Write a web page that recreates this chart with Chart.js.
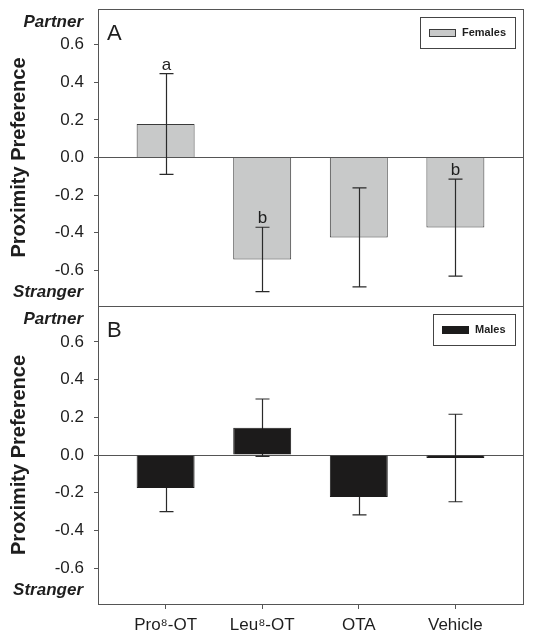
<!DOCTYPE html>
<html>
<head>
<meta charset="utf-8">
<script src="https://cdn.jsdelivr.net/npm/chart.js@4.4.0/dist/chart.umd.min.js"></script>
<style>
  html, body { margin: 0; padding: 0; background: #fff; }
  #wrap { position: relative; width: 533px; height: 642px; }
  #boxA { position: absolute; left: 0; top: 0; width: 533px; height: 307px; }
  #boxB { position: absolute; left: 0; top: 300px; width: 533px; height: 342px; }
</style>
</head>
<body>
<div id="wrap">
  <div id="boxA"><canvas id="chartA"></canvas></div>
  <div id="boxB"><canvas id="chartB"></canvas></div>
</div>
<script>
const categories = ['Pro\u2078-OT', 'Leu\u2078-OT', 'OTA', 'Vehicle'];
const femaleMeans = [0.178, -0.542, -0.425, -0.373];
const femaleErrors = [0.268, 0.171, 0.263, 0.258];
const femaleLetters = ['a', 'b', '', 'b'];
const maleMeans = [-0.175, 0.145, -0.223, -0.016];
const maleErrors = [0.125, 0.152, 0.094, 0.232];
const yTicks = [-0.6, -0.4, -0.2, 0, 0.2, 0.4, 0.6];
const endLabels = { top: 'Partner', bottom: 'Stranger' };

const FONT = '"Liberation Sans", Arial, sans-serif';
const INK = '#1e1e1e';
const EDGE = '#555';
Chart.defaults.font.family = FONT;
Chart.defaults.color = INK;

const noPad = (s) => {
  s.paddingTop = 0;
  s.paddingBottom = 0;
  s.paddingLeft = 0;
  s.paddingRight = 0;
};

const drawErrors = (chart, o) => {
  const { ctx, scales: { x, y } } = chart;
  ctx.save();
  ctx.strokeStyle = '#2a2a2a';
  ctx.lineWidth = 1.2;
  o.means.forEach((m, i) => {
    const px = Math.round(x.getPixelForValue(i + 1)) + 0.5;
    const hi = y.getPixelForValue(m + o.errors[i]);
    const lo = y.getPixelForValue(m - o.errors[i]);
    ctx.beginPath();
    ctx.moveTo(px, hi); ctx.lineTo(px, lo);
    ctx.moveTo(px - 7, hi); ctx.lineTo(px + 7, hi);
    ctx.moveTo(px - 7, lo); ctx.lineTo(px + 7, lo);
    ctx.stroke();
    const t = (o.letters || [])[i];
    if (t) {
      ctx.fillStyle = INK;
      ctx.font = `17px ${FONT}`;
      ctx.textAlign = 'center';
      ctx.textBaseline = 'alphabetic';
      ctx.fillText(t, px, hi - 4);
    }
  });
  ctx.restore();
};

// frame, error bars, letters, legend box, Partner/Stranger
const panelPlugin = {
  id: 'panel',
  beforeDatasetsDraw(chart, args, o) {
    if (o.errorsBehind) drawErrors(chart, o);
  },
  afterDatasetsDraw(chart, args, o) {
    if (!o.errorsBehind) drawErrors(chart, o);
  },
  afterDraw(chart, args, o) {
    const { ctx, chartArea: a, scales: { y } } = chart;
    ctx.save();
    ctx.strokeStyle = EDGE;
    ctx.lineWidth = 1;
    ctx.strokeRect(Math.round(a.left) + 0.5, Math.round(a.top) + 0.5,
      Math.round(a.right - a.left), Math.round(a.bottom - a.top));

    ctx.fillStyle = INK;
    ctx.font = `italic bold 17px ${FONT}`;
    ctx.textAlign = 'right';
    ctx.textBaseline = 'middle';
    ctx.fillText(endLabels.top, 83, y.getPixelForValue(0.717));
    ctx.fillText(endLabels.bottom, 83, y.getPixelForValue(-0.717));

    ctx.font = `22px ${FONT}`;
    ctx.textAlign = 'left';
    ctx.textBaseline = 'alphabetic';
    ctx.fillText(o.letter, a.left + 9, a.top + 31);

    // legend
    ctx.font = `bold 11px ${FONT}`;
    const tw = ctx.measureText(o.label).width;
    const w = Math.round(9 + 27 + 6 + tw + 9), h = 31;
    const lx = Math.round(a.right - 8 - w), ly = Math.round(a.top + 8);
    ctx.fillStyle = '#fff';
    ctx.fillRect(lx, ly, w, h);
    ctx.strokeStyle = '#444';
    ctx.strokeRect(lx + 0.5, ly + 0.5, w, h);
    ctx.fillStyle = o.fill;
    ctx.fillRect(lx + 9, ly + 12, 27, 8);
    ctx.strokeStyle = o.edge;
    ctx.strokeRect(lx + 9.5, ly + 12.5, 26, 7);
    ctx.fillStyle = INK;
    ctx.textBaseline = 'middle';
    ctx.fillText(o.label, lx + 42, ly + 16);
    ctx.restore();
  }
};

const makePanel = (id, o) =>
  new Chart(document.getElementById(id), {
    type: 'bar',
    data: {
      datasets: [{
        label: o.label,
        data: o.means.map((v, i) => ({ x: i + 1, y: v })),
        backgroundColor: o.fill,
        borderColor: o.edge,
        borderWidth: 1,
        barPercentage: 0.6,
        categoryPercentage: 1
      }]
    },
    options: {
      responsive: true,
      maintainAspectRatio: false,
      animation: false,
      layout: { padding: o.padding },
      plugins: { legend: { display: false }, tooltip: { enabled: false }, panel: o },
      scales: {
        x: {
          type: 'linear',
          min: 0.3,
          max: 4.7,
          offset: false,
          display: o.showX,
          afterBuildTicks: (s) => { s.ticks = categories.map((c, i) => ({ value: i + 1 })); },
          afterFit: (s) => {
            noPad(s);
            if (o.showX) s.height = 38;
          },
          ticks: { callback: (v) => categories[v - 1], font: { size: 17 }, color: INK, padding: 6, maxRotation: 0 },
          grid: { offset: false, drawOnChartArea: false, tickLength: 5, tickColor: EDGE },
          border: { display: false }
        },
        y: {
          min: -0.79,
          max: 0.79,
          afterBuildTicks: (s) => { s.ticks = yTicks.map((v) => ({ value: v })); },
          afterFit: (s) => {
            noPad(s);
            s.width = 98;
          },
          ticks: { callback: (v) => v.toFixed(1), font: { size: 17 }, color: INK, padding: 10 },
          grid: {
            color: (c) => (c.tick && c.tick.value === 0 ? EDGE : 'rgba(0,0,0,0)'),
            tickColor: EDGE,
            tickLength: 4,
            lineWidth: 1
          },
          border: { display: false },
          title: {
            display: true,
            text: 'Proximity Preference',
            font: { size: 20, weight: 'bold' },
            color: INK,
            padding: { top: 7, bottom: 0 }
          }
        }
      }
    },
    plugins: [panelPlugin]
  });

makePanel('chartA', {
  letter: 'A', label: 'Females', means: femaleMeans, errors: femaleErrors, letters: femaleLetters,
  fill: '#c8c9c9', edge: '#3a3a3a', showX: false, errorsBehind: false,
  padding: { top: 9, bottom: 1, left: 0, right: 10 }
});
makePanel('chartB', {
  letter: 'B', label: 'Males', means: maleMeans, errors: maleErrors, letters: [],
  fill: '#1c1b1b', edge: '#1c1b1b', showX: true, errorsBehind: true,
  padding: { top: 6, bottom: 0, left: 0, right: 10 }
});
</script>
</body>
</html>
